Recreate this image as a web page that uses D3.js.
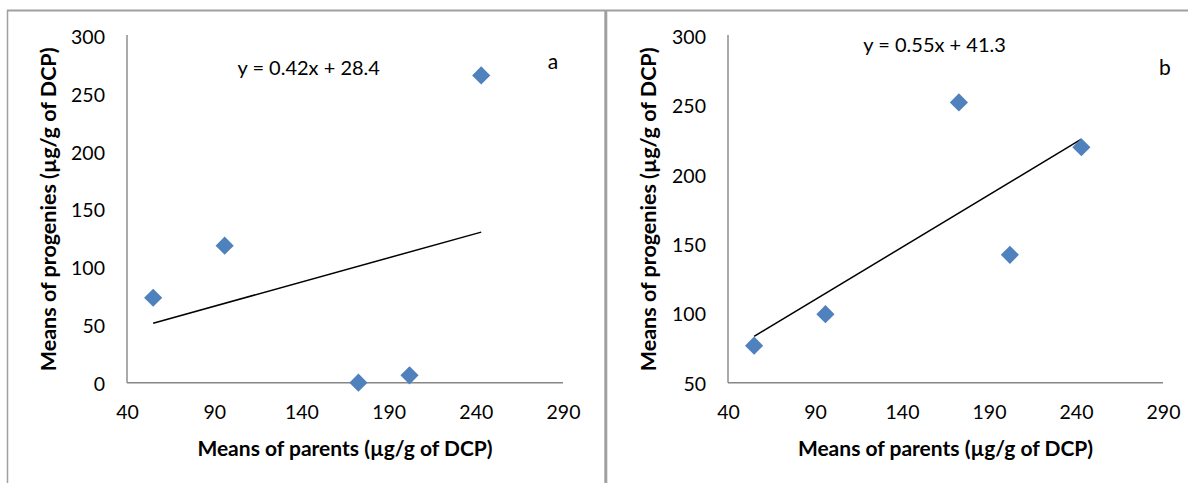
<!DOCTYPE html>
<html>
<head>
<meta charset="utf-8">
<script src="https://cdn.jsdelivr.net/npm/d3@7"></script>
<style>
  html, body { margin: 0; padding: 0; background: #ffffff; }
  svg { display: block; }
  text { font-family: Lato, "Open Sans", "Liberation Sans", sans-serif; fill: #000; }
</style>
</head>
<body>
<svg id="chart" width="1188" height="483"></svg>
<script>
// ---------- data ----------
const xTickValues = [40, 90, 140, 190, 240, 290];
const yTickValuesA = [0, 50, 100, 150, 200, 250, 300];
const yTickValuesB = [50, 100, 150, 200, 250, 300];
const parentMeans = [55, 96, 172.7, 202, 243.1];
const progenyMeansA = [73.5, 118.6, 0, 6.4, 265.9];
const progenyMeansB = [76.7, 99.4, 252.1, 142.2, 219.8];
const equationA = "y = 0.42x + 28.4";
const equationB = "y = 0.55x + 41.3";
const panelLabels = ["a", "b"];
const xTitle = "Means of parents (µg/g of DCP)";
const yTitle = "Means of progenies (µg/g of DCP)";

// ---------- layout ----------
(function () {
const svg = d3.select("#chart");
const W = 1188, H = 483;
const markerColor = "#4F81BD";
const axisColor = "#868686";
const borderColor = "#a0a0a0";

// outer frames
svg.append("line").attr("x1", 7).attr("x2", W).attr("y1", 10.5).attr("y2", 10.5)
  .attr("stroke", borderColor).attr("stroke-width", 2);
svg.append("line").attr("x1", 7.5).attr("x2", 7.5).attr("y1", 10).attr("y2", H)
  .attr("stroke", borderColor).attr("stroke-width", 1.5);
svg.append("line").attr("x1", 605.8).attr("x2", 605.8).attr("y1", 10).attr("y2", H)
  .attr("stroke", borderColor).attr("stroke-width", 3);

const panels = [
  { left: 127, right: 563, yDomain: [0, 300], yTicks: yTickValuesA, ys: progenyMeansA,
    eq: equationA, eqX: 308.7, eqY: 67, label: panelLabels[0], labX: 553, labY: 60, yTitleX: 48 },
  { left: 728, right: 1163, yDomain: [50, 300], yTicks: yTickValuesB, ys: progenyMeansB,
    eq: equationB, eqX: 934.6, eqY: 44, label: panelLabels[1], labX: 1165, labY: 66, yTitleX: 648 }
];
const plotTop = 36, plotBottom = 382.7;

function linearFit(xs, ys) {
  const n = xs.length;
  const mx = d3.mean(xs), my = d3.mean(ys);
  let sxy = 0, sxx = 0;
  for (let i = 0; i < n; i++) { sxy += (xs[i] - mx) * (ys[i] - my); sxx += (xs[i] - mx) ** 2; }
  const slope = sxy / sxx;
  return { slope, intercept: my - slope * mx };
}

panels.forEach(p => {
  const x = d3.scaleLinear().domain([40, 290]).range([p.left, p.right]);
  const y = d3.scaleLinear().domain(p.yDomain).range([plotBottom, plotTop]);
  const g = svg.append("g");

  // x axis
  const xAxis = g.append("g").attr("transform", `translate(0,${plotBottom})`)
    .call(d3.axisBottom(x).tickValues(xTickValues).tickSize(0).tickPadding(0));
  xAxis.select(".domain").attr("stroke", axisColor).attr("stroke-width", 1.4)
    .attr("d", `M${p.left},0H${p.right}`);
  xAxis.selectAll(".tick text").attr("font-size", 19.5).attr("font-family", null)
    .attr("dy", null).attr("y", 29).attr("dominant-baseline", "central");

  // y axis
  const yAxis = g.append("g").attr("transform", `translate(${p.left},0)`)
    .call(d3.axisLeft(y).tickValues(p.yTicks).tickSize(0).tickPadding(22));
  yAxis.select(".domain").attr("stroke", axisColor).attr("stroke-width", 1.4)
    .attr("d", `M0,${plotTop - 1}V${plotBottom}`);
  yAxis.selectAll(".tick text").attr("font-size", 19.5).attr("font-family", null)
    .attr("dy", null).attr("dominant-baseline", "central");

  // trendline
  const fit = linearFit(parentMeans, p.ys);
  const xMin = d3.min(parentMeans), xMax = d3.max(parentMeans);
  g.append("line")
    .attr("x1", x(xMin)).attr("y1", y(fit.slope * xMin + fit.intercept))
    .attr("x2", x(xMax)).attr("y2", y(fit.slope * xMax + fit.intercept))
    .attr("stroke", "#000").attr("stroke-width", 1.5);

  // markers
  const diamond = d3.symbol(d3.symbolSquare, 165);
  g.selectAll("path.pt").data(parentMeans.map((v, i) => [v, p.ys[i]])).join("path")
    .attr("class", "pt")
    .attr("d", diamond)
    .attr("transform", d => `translate(${x(d[0])},${y(d[1])}) rotate(45)`)
    .attr("fill", markerColor);

  // equation and panel label
  g.append("text").attr("x", p.eqX).attr("y", p.eqY).attr("text-anchor", "middle")
    .attr("dominant-baseline", "central").attr("font-size", 20).text(p.eq);
  g.append("text").attr("x", p.labX).attr("y", p.labY).attr("text-anchor", "middle")
    .attr("dominant-baseline", "central").attr("font-size", 21).text(p.label);

  // titles
  g.append("text").attr("x", (p.left + p.right) / 2).attr("y", 447)
    .attr("text-anchor", "middle").attr("dominant-baseline", "central")
    .attr("font-size", 21).attr("font-weight", "bold").text(xTitle);
  g.append("text").attr("transform", `translate(${p.yTitleX},${(plotTop + plotBottom) / 2}) rotate(-90)`)
    .attr("text-anchor", "middle").attr("dominant-baseline", "central")
    .attr("font-size", 21.5).attr("font-weight", "bold").text(yTitle);
});
})();
</script>
</body>
</html>
